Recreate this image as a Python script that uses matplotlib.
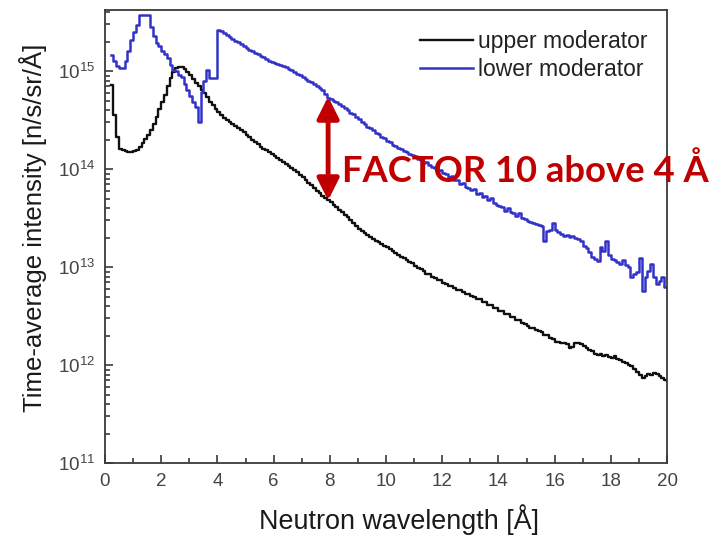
import numpy as np
import matplotlib
matplotlib.use("Agg")
import matplotlib.pyplot as plt

plt.rcParams['font.family'] = ['Liberation Sans', 'DejaVu Sans']
plt.rcParams['mathtext.fontset'] = 'custom'
plt.rcParams['mathtext.rm'] = 'Liberation Sans'
plt.rcParams['mathtext.it'] = 'Liberation Sans'

# ---------------- data (log10 of intensity, n/s/sr/Å) ----------------
wavelength = np.round(np.arange(0.2, 20.01, 0.1), 1)

upper_log = [
    14.86, 14.55, 14.33, 14.21, 14.19, 14.18, 14.17, 14.17, 14.18, 14.20,   # 0.2-1.1
    14.23, 14.27, 14.31, 14.35, 14.40, 14.46, 14.53, 14.61, 14.69, 14.76,   # 1.2-2.1
    14.85, 14.93, 14.99, 15.03, 15.04, 15.04, 15.02, 14.99, 14.96, 14.92,   # 2.2-3.1
    14.88, 14.85, 14.81, 14.78, 14.74, 14.69, 14.65, 14.61, 14.58, 14.55,   # 3.2-4.1
    14.52, 14.50, 14.48, 14.46, 14.44, 14.42, 14.40, 14.38, 14.35, 14.33,   # 4.2-5.1
    14.30, 14.28, 14.26, 14.23, 14.21, 14.19, 14.17, 14.15, 14.13, 14.11,   # 5.2-6.1
    14.09, 14.07, 14.05, 14.03, 14.01, 13.99, 13.97, 13.94, 13.92, 13.89,   # 6.2-7.1
    13.86, 13.84, 13.81, 13.78, 13.76, 13.73, 13.70, 13.68, 13.66, 13.63,   # 7.2-8.1
    13.61, 13.58, 13.56, 13.53, 13.51, 13.48, 13.45, 13.42, 13.39, 13.37,   # 8.2-9.1
    13.35, 13.33, 13.31, 13.29, 13.27, 13.26, 13.24, 13.22, 13.20, 13.18,   # 9.2-10.1
    13.16, 13.14, 13.12, 13.10, 13.09, 13.07, 13.05, 13.04, 13.01, 12.99,   # 10.2-11.1
    12.98, 12.96, 12.93, 12.93, 12.90, 12.89, 12.87, 12.87, 12.84, 12.83,   # 11.2-12.1
    12.81, 12.81, 12.79, 12.77, 12.77, 12.75, 12.73, 12.73, 12.70, 12.69,   # 12.2-13.1
    12.67, 12.67, 12.64, 12.64, 12.61, 12.61, 12.58, 12.58, 12.55, 12.55,   # 13.2-14.1
    12.52, 12.52, 12.49, 12.49, 12.46, 12.46, 12.43, 12.42, 12.40, 12.38,   # 14.2-15.1
    12.38, 12.36, 12.35, 12.34, 12.31, 12.31, 12.28, 12.27, 12.24, 12.24,   # 15.2-16.1
    12.23, 12.23, 12.21, 12.17, 12.18, 12.22, 12.22, 12.21, 12.19, 12.17,   # 16.2-17.1
    12.15, 12.14, 12.11, 12.10, 12.11, 12.09, 12.10, 12.08, 12.07, 12.09,   # 17.2-18.1
    12.06, 12.05, 12.03, 12.02, 12.00, 11.99, 11.96, 11.93, 11.90, 11.87,   # 18.2-19.1
    11.89, 11.91, 11.90, 11.92, 11.91, 11.89, 11.87, 11.85, 11.84,          # 19.2-20.0
]

lower_log = [
    15.16, 15.10, 15.05, 15.03, 15.03, 15.10, 15.21, 15.32, 15.40, 15.47,   # 0.2-1.1
    15.57, 15.57, 15.57, 15.57, 15.45, 15.36, 15.29, 15.26, 15.21, 15.17,   # 1.2-2.1
    15.13, 15.06, 15.01, 15.00, 14.96, 14.94, 14.87, 14.81, 14.75, 14.69,   # 2.2-3.1
    14.63, 14.48, 14.79, 14.90, 15.01, 14.93, 14.93, 14.93, 15.42, 15.41,   # 3.2-4.1
    15.39, 15.37, 15.35, 15.33, 15.31, 15.30, 15.28, 15.26, 15.24, 15.22,   # 4.2-5.1
    15.21, 15.19, 15.17, 15.15, 15.14, 15.12, 15.10, 15.09, 15.08, 15.07,   # 5.2-6.1
    15.06, 15.05, 15.04, 15.02, 15.01, 14.99, 14.97, 14.96, 14.94, 14.92,   # 6.2-7.1
    14.90, 14.89, 14.87, 14.85, 14.83, 14.81, 14.77, 14.73, 14.72, 14.70,   # 7.2-8.1
    14.68, 14.66, 14.64, 14.62, 14.60, 14.57, 14.56, 14.53, 14.51, 14.48,   # 8.2-9.1
    14.46, 14.43, 14.42, 14.40, 14.37, 14.36, 14.33, 14.32, 14.29, 14.28,   # 9.2-10.1
    14.25, 14.24, 14.22, 14.21, 14.18, 14.17, 14.15, 14.14, 14.13, 14.10,   # 10.2-11.1
    14.09, 14.06, 14.07, 14.04, 14.02, 14.01, 13.98, 13.99, 13.96, 13.95,   # 11.2-12.1
    13.92, 13.93, 13.89, 13.89, 13.85, 13.86, 13.82, 13.81, 13.79, 13.80,   # 12.2-13.1
    13.75, 13.76, 13.72, 13.73, 13.68, 13.70, 13.65, 13.63, 13.62, 13.61,   # 13.2-14.1
    13.57, 13.60, 13.56, 13.55, 13.52, 13.55, 13.50, 13.49, 13.47, 13.46,   # 14.2-15.1
    13.45, 13.44, 13.43, 13.42, 13.27, 13.37, 13.38, 13.45, 13.38, 13.36,   # 15.2-16.1
    13.34, 13.32, 13.33, 13.31, 13.32, 13.30, 13.29, 13.27, 13.22, 13.19,   # 16.2-17.1
    13.15, 13.10, 13.08, 13.06, 13.20, 13.16, 13.27, 13.12, 13.08, 13.07,   # 17.2-18.1
    13.05, 13.03, 13.07, 13.02, 13.00, 12.90, 12.93, 12.95, 13.09, 12.76,   # 18.2-19.1
    12.90, 12.96, 13.03, 12.90, 12.83, 12.86, 12.90, 12.80, 12.80,          # 19.2-20.0
]

series_labels = ["upper moderator", "lower moderator"]
xticks = [0, 2, 4, 6, 8, 10, 12, 14, 16, 18, 20]
yticks = [1e11, 1e12, 1e13, 1e14, 1e15]
ytick_labels = [r"$10^{11}$", r"$10^{12}$", r"$10^{13}$", r"$10^{14}$", r"$10^{15}$"]
arrow_x = 7.94
arrow_top_log = 14.74
arrow_bottom_log = 13.68
annotation = "FACTOR 10 above 4 Å"

upper = 10.0 ** np.array(upper_log)
lower = 10.0 ** np.array(lower_log)

# ---------------- figure ----------------
W, H = 710, 538
fig = plt.figure(figsize=(W / 100, H / 100), dpi=100)
ax = fig.add_axes([105 / W, 1 - 463 / H, (667 - 105) / W, (463 - 10) / H])

ax.plot(wavelength, upper, color="#111111", lw=1.7, drawstyle="steps-post",
        label=series_labels[0])
ax.plot(wavelength, lower, color="#3232c8", lw=1.8, drawstyle="steps-post",
        label=series_labels[1])

ax.set_yscale("log")
ax.set_xlim(0, 20)
ax.set_ylim(1e11, 10 ** 15.624)
ax.set_xticks(xticks)
ax.set_xticks(np.arange(1, 20, 2), minor=True)
ax.set_yticks(yticks)
ax.set_yticklabels(ytick_labels)
ax.yaxis.set_minor_locator(matplotlib.ticker.LogLocator(base=10, subs=np.arange(2, 10)))
ax.yaxis.set_minor_formatter(matplotlib.ticker.NullFormatter())

axis_col = "#3a3a3a"
for s in ax.spines.values():
    s.set_color(axis_col)
    s.set_linewidth(1.3)
ax.tick_params(which="both", direction="in", top=False, right=False,
               color=axis_col, width=1.2, labelcolor="#444444", labelsize=13.5)
ax.tick_params(which="major", length=6, pad=7)
ax.tick_params(which="minor", length=3.5)

fig.text(399 / W, 1 - 520 / H, "Neutron wavelength [Å]", ha="center", va="center",
         fontsize=19.4, color="#1a1a1a")
fig.text(33 / W, 1 - 228 / H, "Time-average intensity [n/s/sr/Å]", ha="center",
         va="center", rotation=90, fontsize=18.5, color="#1a1a1a")

leg = ax.legend(loc="upper right", bbox_to_anchor=(647 / W, 1 - 30 / H),
                bbox_transform=fig.transFigure, frameon=False, fontsize=16.5,
                handlelength=2.3, handletextpad=0.2, labelspacing=0.2,
                borderaxespad=0, borderpad=0)
for t in leg.get_texts():
    t.set_color("#222222")

red = "#c00000"
ax.annotate("", xy=(arrow_x, 10 ** arrow_top_log), xytext=(arrow_x, 10 ** arrow_bottom_log),
            arrowprops=dict(arrowstyle="<|-|>,head_length=0.6,head_width=0.3",
                            mutation_scale=22, lw=3.5, color=red,
                            shrinkA=0, shrinkB=0))
fig.text(342 / W, 1 - 171 / H, annotation, ha="left", va="center",
         fontsize=26.2, fontweight="bold", color=red, family=["Lato", "DejaVu Sans"])

fig.savefig("out.png", dpi=100)
